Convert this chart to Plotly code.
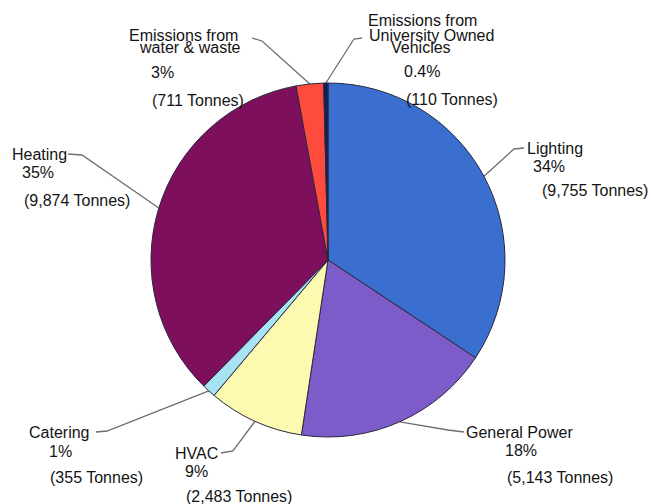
import math
import plotly.graph_objects as go

# ---------------- data ----------------
categories = [
    "Lighting",
    "General Power",
    "HVAC",
    "Catering",
    "Heating",
    "Emissions from water & waste",
    "Emissions from University Owned Vehicles",
]
tonnes = [9755, 5143, 2483, 355, 9874, 711, 110]
pct_labels = ["34%", "18%", "9%", "1%", "35%", "3%", "0.4%"]
name_lines = [
    ["Lighting"],
    ["General Power"],
    ["HVAC"],
    ["Catering"],
    ["Heating"],
    ["Emissions from", "water & waste"],
    ["Emissions from", "University Owned", "Vehicles"],
]

# ---------------- style / layout ----------------
colors = ["#3a6fd0", "#7d5cc9", "#fcfab0", "#a8e3f4", "#7e0f5c", "#ff4b3e", "#0e1f5e"]
W, H = 652, 504
CX, CY, R = 328, 260, 177            # pie centre / radius in pixels (y from top)
FONT = "Liberation Sans, Arial, sans-serif"

# text line centres (name lines..., pct, tonnes) and leader anchor/elbow per slice (pixels)
text_pos = [
    [(555, 148), (549, 166), (595, 190)],
    [(519, 432), (521, 450), (560, 477)],
    [(196, 453), (196, 471), (239, 496)],
    [(59, 432), (60, 451), (96, 477)],
    [(39, 154), (38, 172), (77, 200)],
    [(183, 35), (190, 47), (162, 72), (198, 100)],
    [(422, 20), (431, 35), (421, 47), (422, 71), (452, 99)],
]
leader_pts = [
    [(524, 148), (514, 149)],
    [(464, 432), (448, 430)],
    [(221, 453), (233, 451)],
    [(96, 432), (107, 431)],
    [(68, 154), (82, 155)],
    [(252, 38), (262, 41)],
    [(362, 38), (354, 39)],
]

fig = go.Figure()

fig.add_trace(go.Pie(
    labels=categories,
    values=tonnes,
    sort=False,
    direction="clockwise",
    rotation=0,
    marker=dict(colors=colors, line=dict(color="#28283c", width=1)),
    textinfo="none",
    hoverinfo="label+value+percent",
    showlegend=False,
    domain=dict(x=[(CX - R) / W, (CX + R) / W],
                y=[(H - CY - R) / H, (H - CY + R) / H]),
))

total = sum(tonnes)
cum = 0
for i, v in enumerate(tonnes):
    mid = (cum + v / 2) / total
    cum += v
    ang = 2 * math.pi * mid
    ex = CX + R * math.sin(ang)
    ey = CY - R * math.cos(ang)
    pts = leader_pts[i] + [(ex, ey)]
    fig.add_trace(go.Scatter(
        x=[p[0] for p in pts], y=[p[1] for p in pts],
        mode="lines", line=dict(color="#6e6e6e", width=1.3),
        hoverinfo="skip", showlegend=False,
    ))
    texts = name_lines[i] + [pct_labels[i], f"({v:,} Tonnes)"]
    for t, (tx, ty) in zip(texts, text_pos[i]):
        fig.add_annotation(
            x=tx, y=ty, xref="x", yref="y", text=t, showarrow=False,
            xanchor="center", yanchor="middle",
            font=dict(family=FONT, size=16, color="#141414"),
        )

fig.update_layout(
    width=W, height=H,
    margin=dict(l=0, r=0, t=0, b=0),
    paper_bgcolor="white", plot_bgcolor="rgba(0,0,0,0)",
    xaxis=dict(range=[0, W], visible=False, fixedrange=True),
    yaxis=dict(range=[H, 0], visible=False, fixedrange=True),
)

fig.write_html(
    "out.html",
    config={"displayModeBar": False},
    post_script="document.body.style.margin='0';document.body.style.overflow='hidden';",
)
